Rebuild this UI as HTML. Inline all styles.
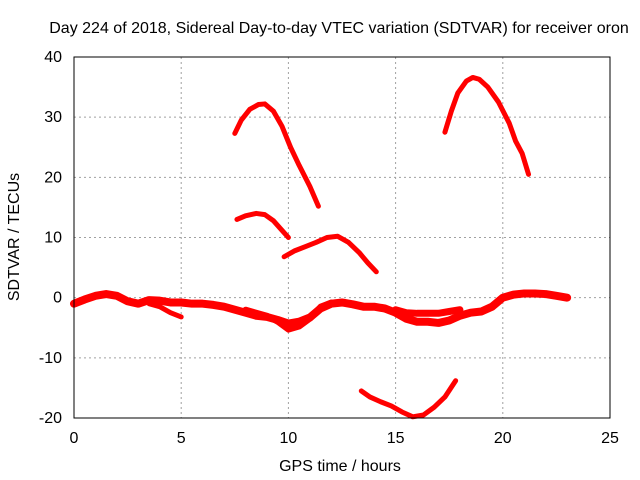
<!DOCTYPE html>
<html><head><meta charset="utf-8"><style>
body{margin:0;background:#fff}
svg{display:block;font-family:"Liberation Sans",sans-serif;font-size:16px}
</style></head><body>
<svg id="chart" width="640" height="480">
<g id="grid"></g>
<g id="series"></g>
<rect x="74" y="57" width="536" height="361" fill="none" stroke="#000" stroke-width="1"/>
<g id="ticks"></g>
<text x="339" y="33" text-anchor="middle">Day 224 of 2018, Sidereal Day-to-day VTEC variation (SDTVAR) for receiver oron</text>
<text x="340" y="471" text-anchor="middle">GPS time / hours</text>
<text transform="translate(19,237) rotate(-90)" text-anchor="middle">SDTVAR / TECUs</text>
</svg>
<script>
const xTicks=[0,5,10,15,20,25];
const yTicks=[-20,-10,0,10,20,30,40];
const arcA=[[7.5,27.3],[7.8,29.5],[8.2,31.3],[8.6,32.1],[8.9,32.2],[9.3,31],[9.7,28.5],[10.1,25],[10.5,22],[11,18.5],[11.4,15.2]];
const arcB=[[17.3,27.5],[17.6,31],[17.9,34],[18.3,36],[18.6,36.6],[18.9,36.3],[19.3,35],[19.8,32.5],[20.3,29],[20.6,26],[20.9,24],[21.2,20.5]];
const arcC=[[7.6,13],[8,13.6],[8.5,14],[8.9,13.8],[9.3,12.8],[9.7,11.2],[10,10]];
const arcD=[[9.8,6.8],[10.3,7.8],[10.8,8.5],[11.3,9.2],[11.8,10],[12.3,10.2],[12.8,9.2],[13.3,7.5],[13.7,5.8],[14.1,4.3]];
const arcE=[[13.4,-15.5],[13.8,-16.5],[14.3,-17.3],[14.8,-18],[15.3,-19],[15.8,-19.8],[16.3,-19.5],[16.8,-18.2],[17.3,-16.5],[17.8,-13.8]];
const band=[[0,-1],[0.5,-0.3],[1,0.3],[1.5,0.6],[2,0.3],[2.5,-0.6],[3,-1],[3.5,-0.4],[4,-0.5],[4.5,-0.8],[5,-0.8],[5.5,-1],[6,-1],[6.5,-1.2],[7,-1.5],[7.5,-2],[8,-2.5],[8.5,-3],[9,-3.2],[9.5,-3.7],[10,-4.3],[10.5,-4],[11,-3.3],[11.5,-1.8],[12,-1],[12.5,-0.8],[13,-1.1],[13.5,-1.5],[14,-1.5],[14.5,-1.8],[15,-2.5],[15.5,-3.5],[16,-4],[16.5,-4],[17,-4.2],[17.5,-3.8],[18,-3],[18.5,-2.5],[19,-2.3],[19.5,-1.5],[20,0],[20.5,0.5],[21,0.7],[21.5,0.7],[22,0.6],[22.5,0.3],[23,0]];
const band2=[[3.5,-1],[4,-1.5],[4.5,-2.5],[5,-3.2]];
const band3=[[8,-2],[9,-3],[9.5,-4],[10,-5.3],[10.5,-4.8],[11,-3.5],[11.5,-1.5],[12,-0.8]];
const band4=[[15,-2],[15.5,-2.5],[16,-2.6],[17,-2.6],[17.5,-2.3],[18,-2]];
const X=v=>74+v*536/25, Y=v=>418-(v+20)*361/60;
const NS="http://www.w3.org/2000/svg";
const g=document.getElementById('grid'),t=document.getElementById('ticks'),s=document.getElementById('series');
function mk(tag,a,p){const e=document.createElementNS(NS,tag);for(const k in a)e.setAttribute(k,a[k]);p.appendChild(e);return e;}
xTicks.forEach(v=>{
 if(v>0&&v<25){const l=mk('line',{x1:X(v),x2:X(v),y1:57,y2:418,stroke:'#a0a0a0','stroke-dasharray':'2,3'},g);
 
 }
 const tx=mk('text',{x:X(v),y:443,'text-anchor':'middle'},t);tx.textContent=v;
 
 
});
yTicks.forEach(v=>{
 if(v>-20&&v<40){const l=mk('line',{x1:74,x2:610,y1:Y(v),y2:Y(v),stroke:'#a0a0a0','stroke-dasharray':'2,3'},g);
 
 }
 const tx=mk('text',{x:62,y:Y(v)+5,'text-anchor':'end'},t);tx.textContent=v;
 
 
});
[[arcA,5],[arcB,5],[arcC,5],[arcD,5],[arcE,5],[band,8],[band2,5],[band3,6],[band4,7]].forEach(([d,w])=>{
 const p=mk('polyline',{points:d.map(q=>X(q[0])+','+Y(q[1])).join(' '),fill:'none',stroke:'#ff0000','stroke-width':w,'stroke-linejoin':'round','stroke-linecap':'round'},s);
 
 
});
</script>
</body></html>
